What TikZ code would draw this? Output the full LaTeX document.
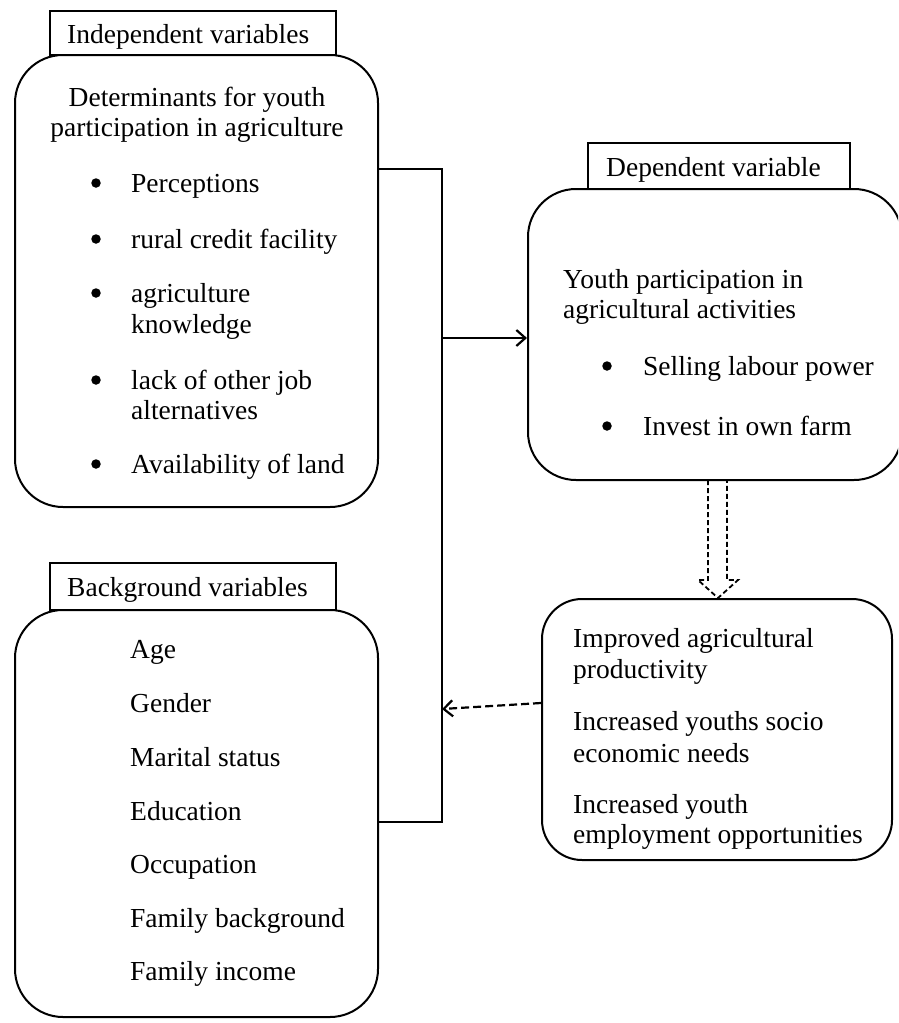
\documentclass[tikz,border=0pt]{standalone}
\usepackage{fontspec}
\setmainfont{Liberation Serif}
\usetikzlibrary{arrows.meta}
\begin{document}
\begin{tikzpicture}[x=1pt,y=-1pt,
  every node/.style={font=\fontsize{27.5}{30}\selectfont},
  txt/.style={anchor=base west,inner sep=0pt},
  ctxt/.style={anchor=base,inner sep=0pt},
  bul/.style={circle,fill=black,inner sep=0pt,minimum size=9.5pt},
  rbox/.style={draw,line width=2pt,rounded corners=48pt,inner sep=0pt},
  labbox/.style={draw,line width=2pt,fill=white,inner sep=0pt},
  conn/.style={line width=2.2pt},
  tip/.style={-{Straight Barb[length=9pt,width=16pt,line width=2.2pt]}}
]
\useasboundingbox (0,0) rectangle (898,1023);
\clip (0,0) rectangle (898,1023);

% boxes
\node[rbox,minimum width=363pt,minimum height=452pt] (ind) at (196.5,281) {};
\node[rbox,minimum width=374pt,minimum height=291pt] (dep) at (715,334.5) {};
\node[rbox,rounded corners=40pt,minimum width=350pt,minimum height=261pt] (out) at (717,729.5) {};
\node[rbox,minimum width=363pt,minimum height=407pt] (bg) at (196.5,813.5) {};

% label boxes
\node[labbox,minimum width=286pt,minimum height=44pt] (lind) at (193,33) {};
\node[labbox,minimum width=262pt,minimum height=46pt] (ldep) at (719,166) {};
\node[labbox,minimum width=286pt,minimum height=47pt] (lbg) at (193,586.5) {};
\node[txt] (tlind) at (67,43) {Independent variables};
\node[txt] (tldep) at (606,176) {Dependent variable};
\node[txt] (tlbg) at (67,596) {Background variables};

% independent box text
\node[ctxt] (i0a) at (197,106) {Determinants for youth};
\node[ctxt] (i0b) at (197,136) {participation in agriculture};
\node[bul] (b1) at (96,183) {};
\node[txt] (i1) at (131,192) {Perceptions};
\node[bul] (b2) at (96,239) {};
\node[txt] (i2) at (131,248) {rural credit facility};
\node[bul] (b3) at (96,293) {};
\node[txt] (i3a) at (131,302) {agriculture};
\node[txt] (i3b) at (131,333) {knowledge};
\node[bul] (b4) at (96,380) {};
\node[txt] (i4a) at (131,389) {lack of other job};
\node[txt] (i4b) at (131,419) {alternatives};
\node[bul] (b5) at (96,464) {};
\node[txt] (i5) at (131,473) {Availability of land};

% dependent box text
\node[txt] (d0a) at (563,288) {Youth participation in};
\node[txt] (d0b) at (563,318) {agricultural activities};
\node[bul] (db1) at (607,366) {};
\node[txt] (d1) at (643,375) {Selling labour power};
\node[bul] (db2) at (607,426) {};
\node[txt] (d2) at (643,435) {Invest in own farm};

% outcome box text
\node[txt] (o1a) at (573,647) {Improved agricultural};
\node[txt] (o1b) at (573,678) {productivity};
\node[txt] (o2a) at (573,730) {Increased youths socio};
\node[txt] (o2b) at (573,762) {economic needs};
\node[txt] (o3a) at (573,813) {Increased youth};
\node[txt] (o3b) at (573,843) {employment opportunities};

% background box text
\node[txt] (g1) at (130,658) {Age};
\node[txt] (g2) at (130,712) {Gender};
\node[txt] (g3) at (130,766) {Marital status};
\node[txt] (g4) at (130,820) {Education};
\node[txt] (g5) at (130,873) {Occupation};
\node[txt] (g6) at (130,927) {Family background};
\node[txt] (g7) at (130,980) {Family income};

% connectors
\coordinate (jtop) at (442,169);
\coordinate (jbot) at (442,822);
\coordinate (jmid) at (442,338);
\coordinate (jdash) at (442,709);
\draw[conn] (ind.east |- jtop) -- (jtop) -- (jbot) -- (bg.east |- jbot);
\draw[conn,tip] (jmid) -- (dep.west |- jmid);
\draw[conn,tip,dash pattern=on 8pt off 4pt] (out.west |- 0,703) -- (jdash);

% hollow dashed arrow
\draw[line width=1.8pt,dash pattern=on 5pt off 3pt]
  (708,480) -- (708,580) -- (698,580) -- (out.north -| 718,0) -- (738,580) -- (727,580) -- (727,480);
\end{tikzpicture}
\end{document}
